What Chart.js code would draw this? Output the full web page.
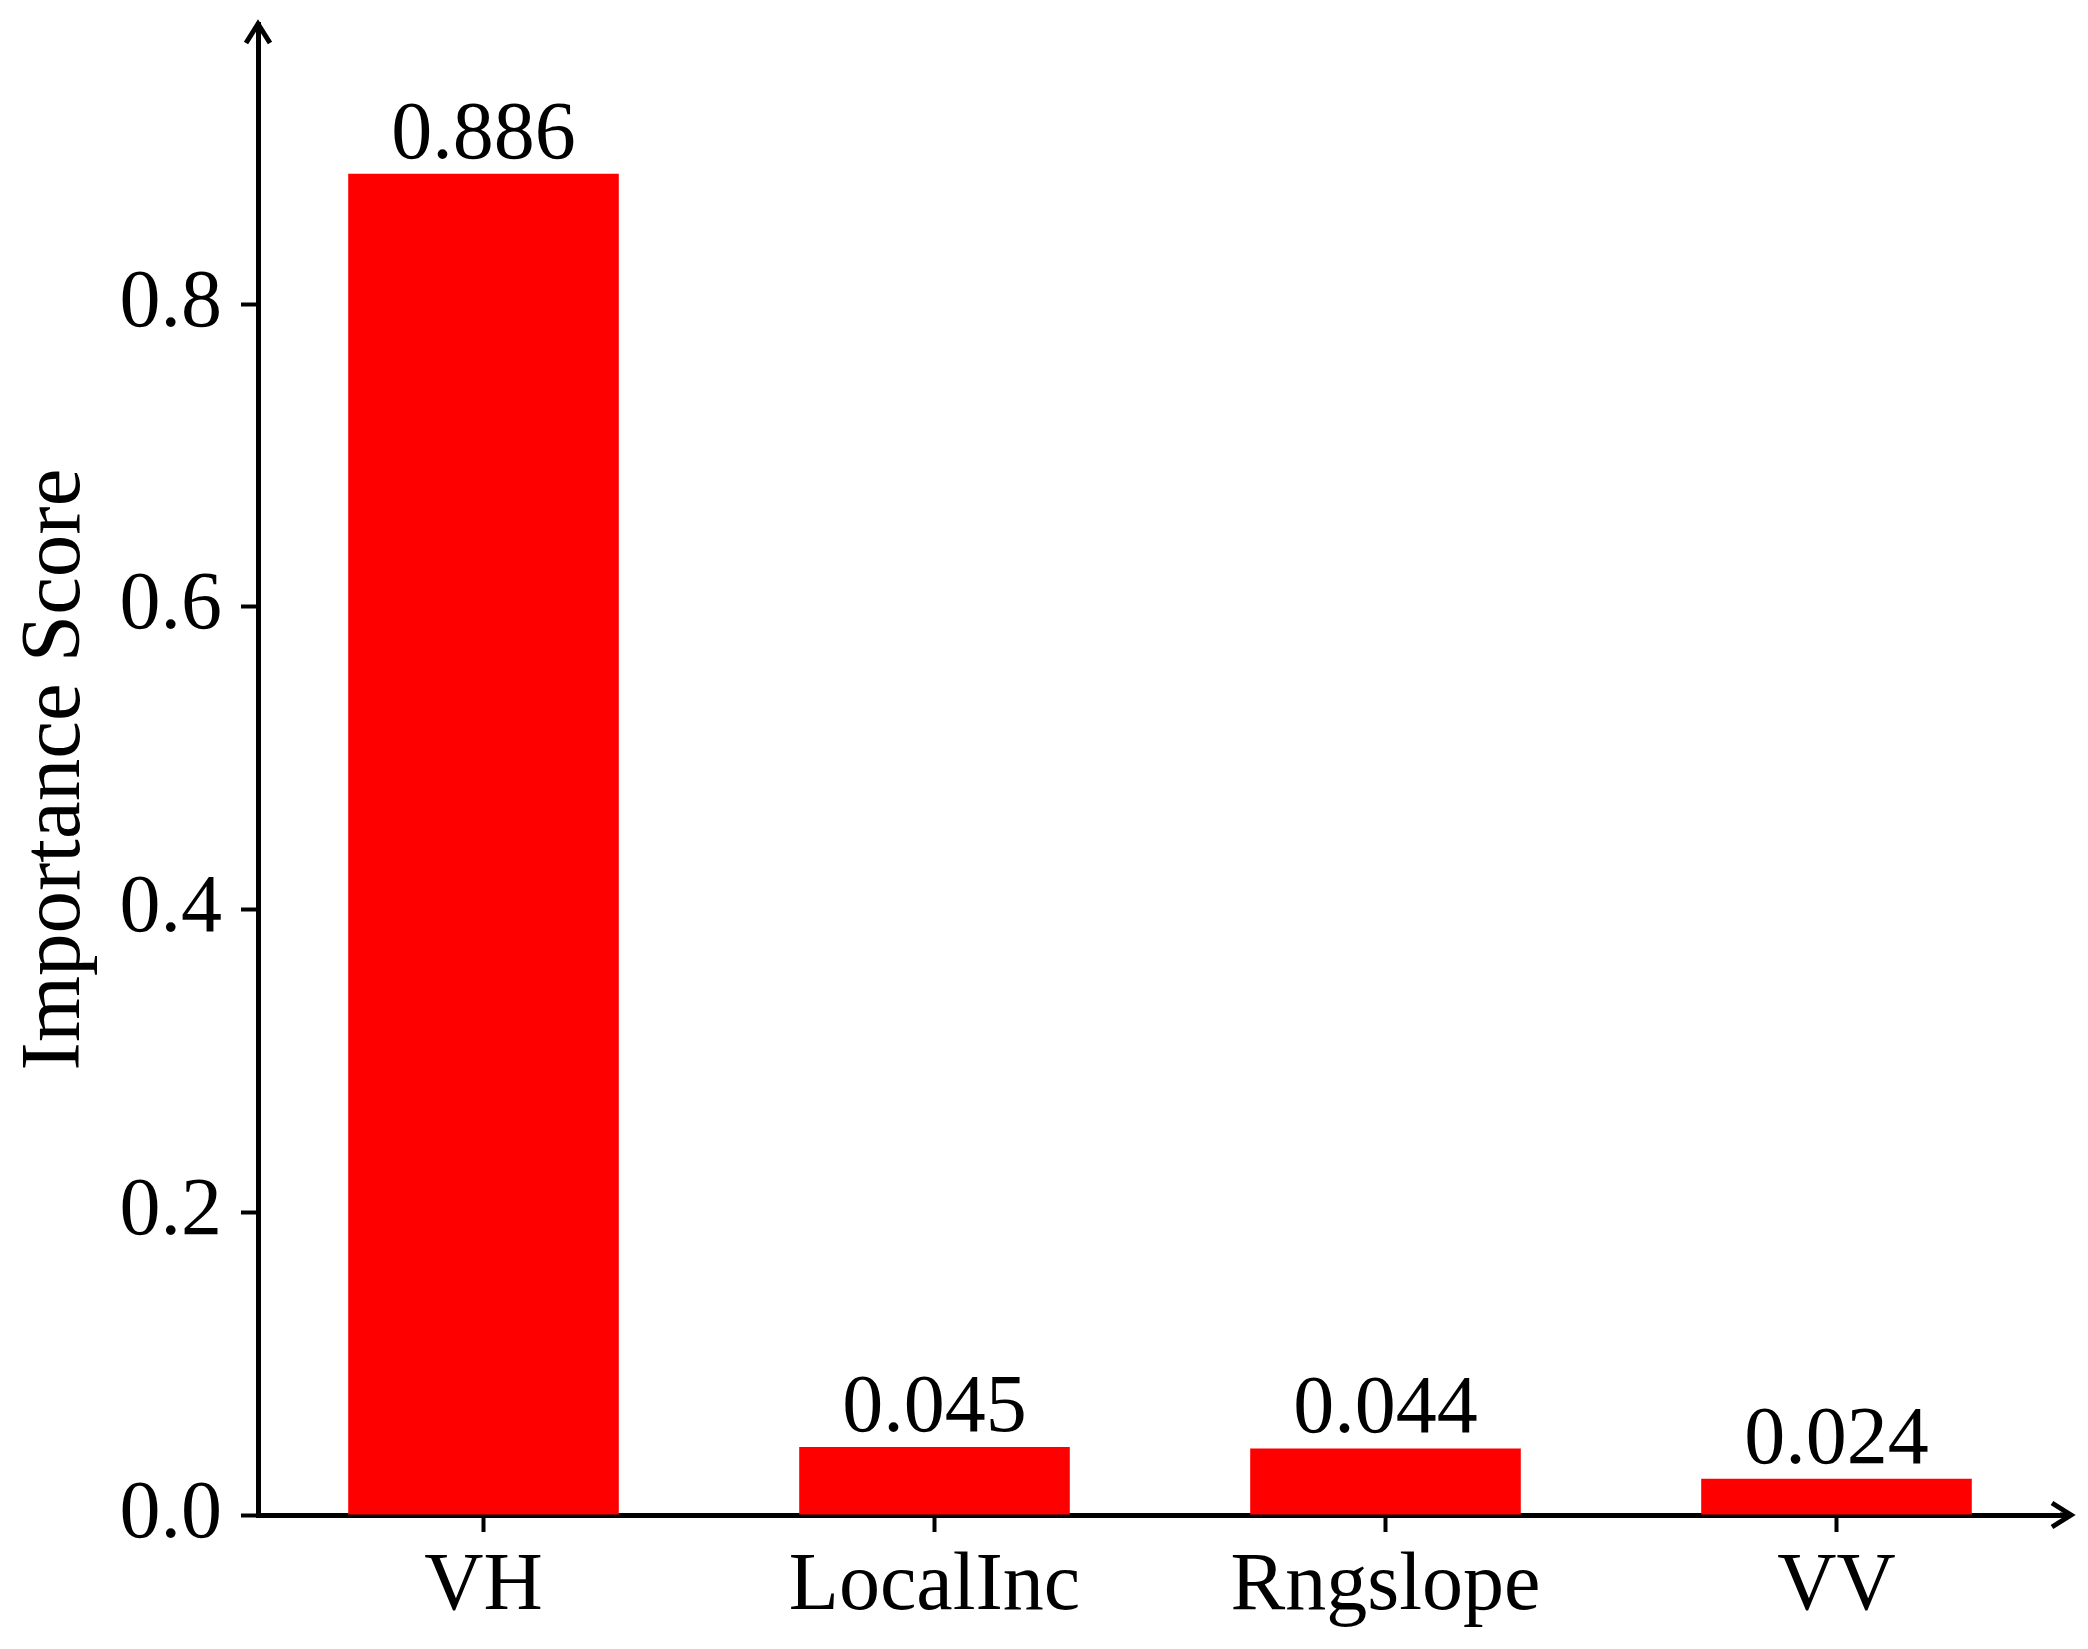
<!DOCTYPE html>
<html>
<head>
<meta charset="utf-8">
<script src="https://cdn.jsdelivr.net/npm/chart.js@4.4.0/dist/chart.umd.min.js"></script>
<style>
html, body { margin: 0; padding: 0; background: #fff; }
</style>
</head>
<body>
<canvas id="chart" width="2088" height="1649"></canvas>
<script>
const categories = ['VH', 'LocalInc', 'Rngslope', 'VV'];
const scores = [0.886, 0.045, 0.044, 0.024];
const yTicks = [0, 0.2, 0.4, 0.6, 0.8];

const fontFamily = "'Liberation Serif', 'Times New Roman', serif";

// arrow heads at the end of both axes
const axisArrows = {
    id: 'axisArrows',
    afterDraw(chart) {
        const { ctx, chartArea } = chart;
        ctx.save();
        ctx.strokeStyle = '#000';
        ctx.lineWidth = 5;
        const yb = chartArea.bottom;
        const tipX = chartArea.right + 9;
        ctx.beginPath();
        ctx.moveTo(chartArea.right - 2, yb);
        ctx.lineTo(tipX, yb);
        ctx.stroke();
        ctx.beginPath();
        ctx.moveTo(tipX - 19, yb - 12);
        ctx.lineTo(tipX, yb);
        ctx.lineTo(tipX - 19, yb + 12);
        ctx.stroke();
        const xl = chartArea.left;
        const tipY = chartArea.top;
        ctx.beginPath();
        ctx.moveTo(xl - 12, tipY + 19);
        ctx.lineTo(xl, tipY);
        ctx.lineTo(xl + 12, tipY + 19);
        ctx.stroke();
        ctx.restore();
    }
};

// value labels above the bars
const valueLabels = {
    id: 'valueLabels',
    afterDatasetsDraw(chart) {
        const { ctx } = chart;
        const meta = chart.getDatasetMeta(0);
        ctx.save();
        ctx.fillStyle = '#000';
        ctx.font = '82px ' + fontFamily;
        ctx.textAlign = 'center';
        ctx.textBaseline = 'alphabetic';
        meta.data.forEach((bar, i) => {
            ctx.fillText(scores[i].toFixed(3), bar.x, bar.y - 16);
        });
        ctx.restore();
    }
};

new Chart(document.getElementById('chart'), {
    type: 'bar',
    data: {
        labels: categories,
        datasets: [{
            data: scores,
            backgroundColor: '#ff0000',
            borderWidth: 0,
            barPercentage: 0.6,
            categoryPercentage: 1.0
        }]
    },
    options: {
        responsive: false,
        animation: false,
        devicePixelRatio: 1,
        layout: { padding: { top: 24, right: 26, left: 0, bottom: 0 } },
        plugins: {
            legend: { display: false },
            tooltip: { enabled: false }
        },
        scales: {
            x: {
                offset: true,
                grid: {
                    offset: false,
                    drawOnChartArea: false,
                    drawTicks: true,
                    tickLength: 17,
                    tickWidth: 4,
                    tickColor: '#000'
                },
                border: { display: true, color: '#000', width: 5 },
                ticks: {
                    color: '#000',
                    padding: 6,
                    font: { family: fontFamily, size: 82 }
                },
                afterFit(scale) { scale.height = 134; }
            },
            y: {
                min: 0,
                max: 0.985,
                afterBuildTicks(scale) {
                    scale.ticks = yTicks.map(v => ({ value: v }));
                },
                grid: {
                    drawOnChartArea: false,
                    drawTicks: true,
                    tickLength: 17,
                    tickWidth: 4,
                    tickColor: '#000'
                },
                border: { display: true, color: '#000', width: 5 },
                ticks: {
                    color: '#000',
                    padding: 19,
                    font: { family: fontFamily, size: 82 },
                    callback: v => v.toFixed(1)
                },
                title: {
                    display: true,
                    text: 'Importance Score',
                    color: '#000',
                    padding: { top: 14, bottom: 0 },
                    font: { family: fontFamily, size: 85, lineHeight: 1 }
                },
                afterFit(scale) {
                    scale.width = 258;
                    scale.paddingTop = 0;
                    scale.paddingBottom = 0;
                }
            }
        }
    },
    plugins: [axisArrows, valueLabels]
});
</script>
</body>
</html>
